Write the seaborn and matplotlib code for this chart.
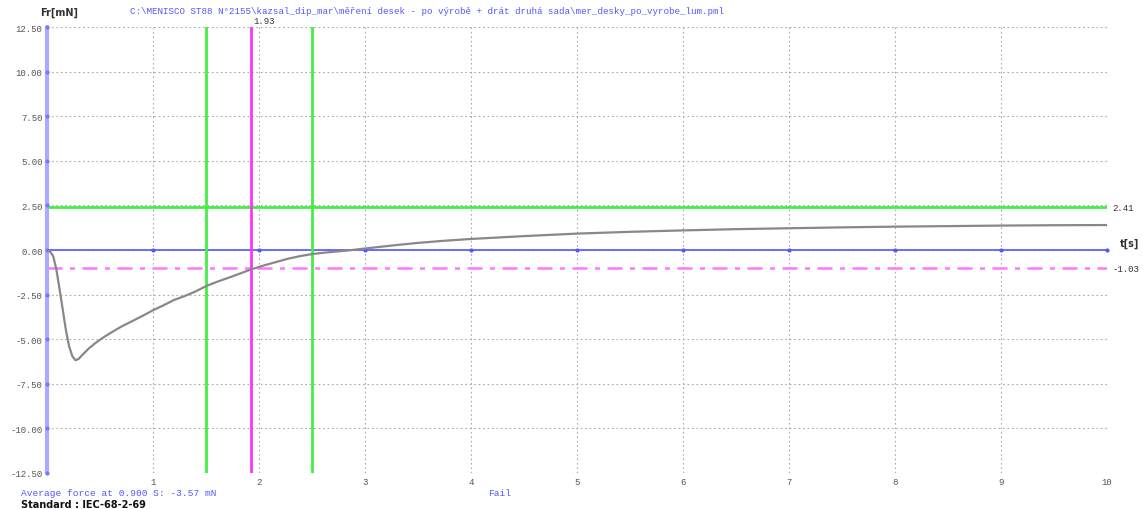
import numpy as np
import pandas as pd
import matplotlib
matplotlib.use("Agg")
import matplotlib.pyplot as plt
import seaborn as sns

sns.set_style("white")

time_s = [0, 0.03, 0.06, 0.09, 0.12, 0.15, 0.18, 0.21, 0.24, 0.27, 0.30,
          0.34, 0.39, 0.45, 0.52, 0.60, 0.70, 0.80, 0.90, 1.0, 1.1, 1.2,
          1.3, 1.4, 1.51, 1.62, 1.73, 1.83, 1.93, 2.05, 2.17, 2.28, 2.39,
          2.51, 2.63, 2.74, 2.85, 2.95, 3.1, 3.3, 3.5, 3.75, 4.0, 4.5, 5.0,
          5.5, 6.0, 6.5, 7.0, 7.5, 8.0, 8.5, 9.0, 9.5, 10.0]
force_mn = [0, -0.08, -0.35, -1.1, -2.2, -3.35, -4.5, -5.4, -5.95, -6.18,
            -6.1, -5.85, -5.55, -5.25, -4.95, -4.65, -4.3, -4.0, -3.7, -3.38,
            -3.1, -2.8, -2.58, -2.33, -2.0, -1.75, -1.52, -1.3, -1.08, -0.86,
            -0.66, -0.48, -0.34, -0.22, -0.14, -0.08, -0.02, 0.05, 0.15,
            0.28, 0.4, 0.52, 0.62, 0.78, 0.92, 1.02, 1.1, 1.17, 1.22, 1.27,
            1.31, 1.34, 1.37, 1.39, 1.4]

green_times = [1.5, 2.5]
wetting_time = 1.93
green_force = 2.41
magenta_force = -1.03

x_ticks = list(range(0, 11))
y_ticks = [12.5, 10.0, 7.5, 5.0, 2.5, 0.0, -2.5, -5.0, -7.5, -10.0, -12.5]

title = ("C:\\MENISCO ST88 N°2155\\kazsal_dip_mar\\měření desek - po výrobě"
         " + drát druhá sada\\mer_desky_po_vyrobe_lum.pml")
avg_text = "Average force at 0.900 S: -3.57 mN"
result_text = "Fail"
standard_text = "Standard : IEC-68-2-69"

df = pd.DataFrame({"t": time_s, "F": force_mn})

fig = plt.figure(figsize=(11.43, 5.10), dpi=100)
ax = fig.add_axes([0.041, 0.0706, 0.9275, 0.8744])

for s in ax.spines.values():
    s.set_visible(False)

ax.set_xlim(0, 10)
ax.set_ylim(-12.5, 12.5)
ax.set_xticks(x_ticks)
ax.set_yticks(y_ticks)
ax.set_xticklabels([""] + [str(v) for v in x_ticks[1:]])
ax.set_yticklabels([f"{v:.2f}" for v in y_ticks])
ax.tick_params(length=0, labelsize=6.5, labelcolor="#555555", pad=3)
for lab in ax.get_xticklabels() + ax.get_yticklabels():
    lab.set_family("Liberation Mono")
ax.grid(True, linestyle=(0, (1.5, 2.5)), color="#aaaaaa", linewidth=0.8)
ax.set_axisbelow(True)

# reference lines
ax.axhline(green_force, color="#44ee44", lw=2)
ax.axhline(magenta_force, color="#ff77ff", lw=1.8, linestyle=(0, (6, 3, 2, 3)))
ax.axhline(0, color="#5555ff", lw=1.2)
ax.plot(x_ticks, [0] * len(x_ticks), linestyle="none", marker="o", ms=2,
        color="#5555ff", clip_on=False)
ax.axvline(0, color="#aaaaff", lw=3, clip_on=False)
ax.plot([0] * len(y_ticks), y_ticks, linestyle="none", marker="o", ms=2,
        color="#7777ff", clip_on=False)
for t in green_times:
    ax.axvline(t, color="#44ee44", lw=2)
ax.axvline(wetting_time, color="#ff33ff", lw=2)

sns.lineplot(data=df, x="t", y="F", ax=ax, color="#888888", lw=1.6)
ax.set_xlabel("")
ax.set_ylabel("")

# annotations
ax.text(wetting_time + 0.02, 12.6, f"{wetting_time:.2f}", fontsize=6.5,
        family="Liberation Mono", color="#333333", va="bottom", ha="left")
ax.text(10.05, green_force, f"{green_force:.2f}", fontsize=6.5,
        family="Liberation Mono", color="#333333", va="center")
ax.text(10.05, magenta_force, f"{magenta_force:.2f}", fontsize=6.5,
        family="Liberation Mono", color="#333333", va="center")
ax.text(10.12, 0.1, "t[s]", fontsize=7, fontweight="bold", color="#333333",
        va="bottom")

fig.text(0.035, 0.975, "Fr[mN]", fontsize=7, fontweight="bold",
         color="#333333", va="center")
fig.text(0.114, 0.978, title, fontsize=6.6, family="Liberation Mono",
         color="#5555ff", va="center")
fig.text(0.018, 0.033, avg_text, fontsize=6.8, family="Liberation Mono",
         color="#5555ff", va="center")
fig.text(0.427, 0.033, result_text, fontsize=6.8, family="Liberation Mono",
         color="#5555ff", va="center")
fig.text(0.018, 0.010, standard_text, fontsize=7, fontweight="bold",
         color="#111111", va="center")

fig.savefig("out.png", dpi=100)
